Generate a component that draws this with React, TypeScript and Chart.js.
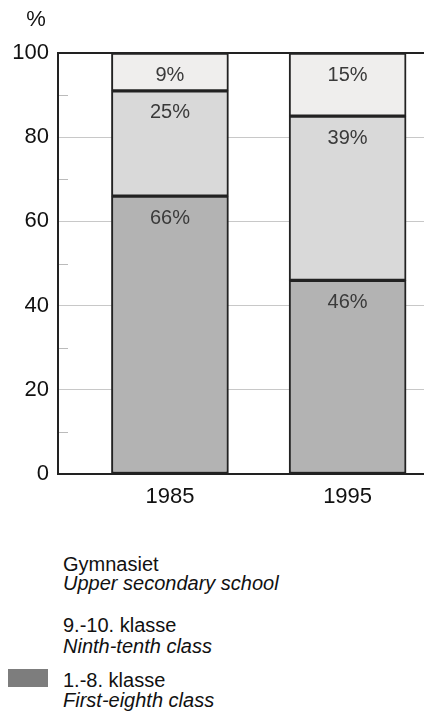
import React, { useEffect, useRef } from "react";
import { Chart, registerables } from "chart.js";

Chart.register(...registerables);

const years = [1985, 1995];
const seriesNames = ["1.-8. klasse", "9.-10. klasse", "Gymnasiet"];
const seriesNamesEn = ["First-eighth class", "Ninth-tenth class", "Upper secondary school"];
const firstEighth = [66, 46];
const ninthTenth = [25, 39];
const gymnasiet = [9, 15];
const seriesColors = ["#b3b3b3", "#d9d9d9", "#efeeed"];
const yTicks = [0, 20, 40, 60, 80, 100];
const minorTicks = [10, 30, 50, 70, 90];

const FONT = '"Liberation Sans", Arial, sans-serif';

export default function App() {
  const ref = useRef<HTMLCanvasElement | null>(null);

  useEffect(() => {
    const canvas = ref.current;
    if (!canvas) return;
    const values = [firstEighth, ninthTenth, gymnasiet];
    const datasets = values.map((vals, i) => ({
      label: seriesNames[i],
      data: years.map((y, j) => ({ x: y, y: vals[j] })),
      backgroundColor: seriesColors[i],
      borderColor: "#222",
      borderWidth: 2,
      borderSkipped: false as const,
      barThickness: 117,
    }));

    const overlay = {
      id: "overlay",
      afterDatasetsDraw(chart: any) {
        const ctx = chart.ctx;
        const ys = chart.scales.y;
        const area = chart.chartArea;
        ctx.save();
        // minor ticks inside plot
        ctx.strokeStyle = "#bbb";
        ctx.lineWidth = 1;
        minorTicks.forEach((v) => {
          const py = Math.round(ys.getPixelForValue(v)) + 0.5;
          ctx.beginPath();
          ctx.moveTo(area.left + 1, py);
          ctx.lineTo(area.left + 10, py);
          ctx.stroke();
        });
        // value labels
        ctx.fillStyle = "#3a3a3a";
        ctx.font = `20px ${FONT}`;
        ctx.textAlign = "center";
        ctx.textBaseline = "middle";
        chart.data.datasets.forEach((ds: any, di: number) => {
          const meta = chart.getDatasetMeta(di);
          meta.data.forEach((el: any, j: number) => {
            const v = ds.data[j].y;
            ctx.fillText(v + "%", el.x, el.y + 22);
          });
        });
        // top frame line
        ctx.strokeStyle = "#222";
        ctx.lineWidth = 2;
        ctx.beginPath();
        ctx.moveTo(area.left, area.top);
        ctx.lineTo(area.right, area.top);
        ctx.stroke();
        // % unit label
        ctx.fillStyle = "#111";
        ctx.font = `22px ${FONT}`;
        ctx.textAlign = "center";
        ctx.textBaseline = "middle";
        ctx.fillText("%", 36, 20);
        ctx.restore();
      },
    };

    const chart = new Chart(canvas, {
      type: "bar",
      data: { datasets },
      options: {
        animation: false,
        responsive: false,
        maintainAspectRatio: false,
        layout: { padding: { top: 53, left: 0, right: 0, bottom: 0 } },
        plugins: { legend: { display: false }, tooltip: { enabled: false } },
        scales: {
          x: {
            type: "linear",
            stacked: true,
            offset: false,
            min: 1978.7,
            max: 1999.3,
            afterBuildTicks: (scale: any) => {
              scale.ticks = years.map((v) => ({ value: v }));
            },
            afterFit: (scale: any) => {
              scale.height = 56;
            },
            grid: { display: false, drawTicks: false },
            border: { display: true, color: "#222", width: 2 },
            ticks: {
              color: "#111",
              font: { family: FONT, size: 22 },
              padding: 10,
              callback: (v: any) => String(v),
            },
          },
          y: {
            stacked: true,
            min: 0,
            max: 100,
            afterBuildTicks: (scale: any) => {
              scale.ticks = yTicks.map((v) => ({ value: v }));
            },
            afterFit: (scale: any) => {
              scale.width = 58;
            },
            grid: {
              drawTicks: false,
              color: (c: any) => (c.tick && c.tick.value > 0 && c.tick.value < 100 ? "#c8c8c8" : "rgba(0,0,0,0)"),
              lineWidth: 1,
            },
            border: { display: true, color: "#222", width: 2 },
            ticks: {
              color: "#111",
              font: { family: FONT, size: 22 },
              padding: 9,
            },
          },
        },
      },
      plugins: [overlay],
    });
    return () => chart.destroy();
  }, []);

  const legendItems = [2, 1, 0];
  const legendTops = [554, 615, 670];
  const secondLine = [19, 21, 20];
  const text: React.CSSProperties = {
    position: "absolute",
    left: 63,
    fontFamily: FONT,
    fontSize: 20,
    lineHeight: "20px",
    color: "#111",
    whiteSpace: "nowrap",
  };

  return (
    <div style={{ position: "absolute", left: 0, top: 0, width: 424, height: 713, background: "#fff", overflow: "hidden" }}>
      <canvas ref={ref} width={424} height={530} style={{ position: "absolute", left: 0, top: 0 }} />
      {legendItems.map((si, k) => (
        <React.Fragment key={si}>
          {si === 0 ? (
            <div
              style={{
                position: "absolute",
                left: 8,
                top: 669,
                width: 40,
                height: 18,
                background: "#7d7d7d",
              }}
            />
          ) : null}
          <div style={{ ...text, top: legendTops[k] }}>{seriesNames[si]}</div>
          <div style={{ ...text, top: legendTops[k] + secondLine[k], fontStyle: "italic" }}>{seriesNamesEn[si]}</div>
        </React.Fragment>
      ))}
    </div>
  );
}
